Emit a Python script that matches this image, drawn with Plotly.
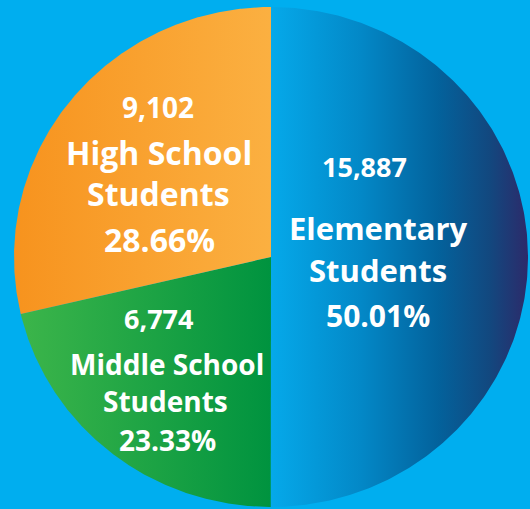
import numpy as np
import plotly.graph_objects as go

# ---- data ----
categories = ["Elementary Students", "Middle School Students", "High School Students"]
counts = [15887, 6774, 9102]
count_labels = ["15,887", "6,774", "9,102"]
pct_labels = ["50.01%", "23.33%", "28.66%"]
name_lines = [["Elementary", "Students"], ["Middle School", "Students"], ["High School", "Students"]]

# ---- styles ----
BG = "#00AEEF"
gradients = [
    [[0, "#05A9EA"], [0.35, "#0388C7"], [0.65, "#03629C"], [0.85, "#12487F"], [1, "#2C2A6A"]],
    [[0, "#3CB54A"], [1, "#00933F"]],
    [[0, "#F7931E"], [1, "#FBB041"]],
]

W, H = 530, 509
CX, CY, RX, RY = 271.0, 257.0, 257.0, 250.0  # pixel geometry of the pie

fig = go.Figure()

total = float(sum(counts))
start = 90.0  # degrees, 12 o'clock, going clockwise
for val, grad in zip(counts, gradients):
    sweep = 360.0 * val / total
    th = np.radians(np.linspace(start, start - sweep, 300))
    xs = np.concatenate([[0.0], np.cos(th), [0.0]])
    ys = np.concatenate([[0.0], np.sin(th), [0.0]])
    fig.add_trace(go.Scatter(
        x=xs, y=ys, mode="lines", fill="toself",
        line=dict(width=0, color="rgba(0,0,0,0)"),
        fillgradient=dict(type="horizontal", colorscale=grad),
        hoverinfo="skip", showlegend=False,
    ))
    start -= sweep

# ---- labels (pixel positions converted to paper) ----
def ann(text, px, py, size):
    fig.add_annotation(
        x=px / W, y=1 - py / H, xref="paper", yref="paper",
        text=text, showarrow=False, xanchor="center", yanchor="middle",
        font=dict(family="Open Sans", size=size, color="white", weight="bold"),
    )

# Elementary
ann(count_labels[0], 364, 166, 27)
ann(name_lines[0][0], 378, 228, 31)
ann(name_lines[0][1], 378, 270, 31)
ann(pct_labels[0], 378, 315, 30)
# Middle school
ann(count_labels[1], 158, 318, 27)
ann(name_lines[1][0], 167, 364, 28)
ann(name_lines[1][1], 165, 401, 28)
ann(pct_labels[1], 167, 440, 28)
# High school
ann(count_labels[2], 158, 107, 28)
ann(name_lines[2][0], 159, 152, 32)
ann(name_lines[2][1], 158, 193, 32)
ann(pct_labels[2], 159, 239, 32)

fig.update_layout(
    width=W, height=H,
    margin=dict(l=0, r=0, t=0, b=0),
    paper_bgcolor=BG, plot_bgcolor=BG,
    xaxis=dict(range=[-CX / RX, (W - CX) / RX], visible=False, fixedrange=True),
    yaxis=dict(range=[(CY - H) / RY, CY / RY], visible=False, fixedrange=True),
    showlegend=False,
)

fig.write_html(
    "out.html",
    config={"displayModeBar": False},
    post_script="document.body.style.margin='0';document.body.style.overflow='hidden';",
)
